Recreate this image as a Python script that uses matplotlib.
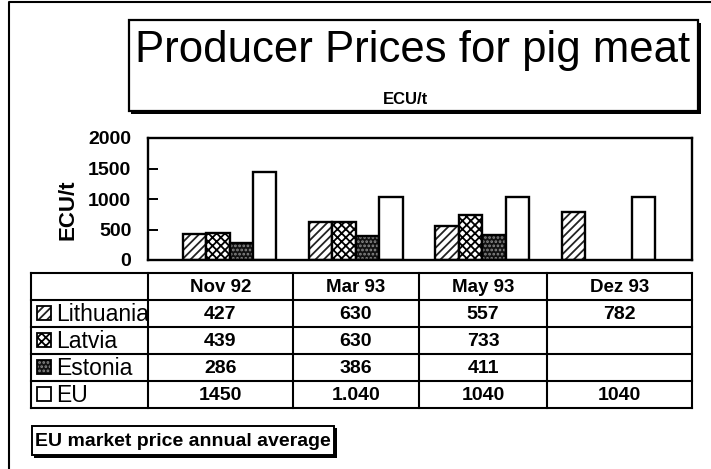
import numpy as np
import matplotlib.pyplot as plt
from matplotlib.patches import Rectangle

plt.rcParams['font.family'] = ['Liberation Sans', 'DejaVu Sans']
plt.rcParams['hatch.linewidth'] = 1.3

# data
months = ['Nov 92', 'Mar 93', 'May 93', 'Dez 93']
countries = ['Lithuania', 'Latvia', 'Estonia', 'EU']
lithuania = [427, 630, 557, 782]
latvia = [439, 630, 733, np.nan]
estonia = [286, 386, 411, np.nan]
eu = [1450, 1040, 1040, 1040]
eu_shown = ['1450', '1.040', '1040', '1040']   # as printed in the table
yticks = [0, 500, 1000, 1500, 2000]

# fill, hatch, hatch colour for each series
styles = [('white', '////', '#222222'),
          ('white', 'xxxx', 'black'),
          ('#111111', '....', '#8a8a8a'),
          ('white', '', 'black')]

W, H = 711, 469
fig = plt.figure(figsize=(W / 100, H / 100), dpi=100)

# background layer in pixel coords for frames, boxes and the table
bg = fig.add_axes([0, 0, 1, 1], zorder=0)
bg.set_xlim(0, W)
bg.set_ylim(H, 0)
bg.axis('off')

# page frame (left and top only)
bg.plot([9, 9, W], [H, 2, 2], color='black', lw=1.5)

# title box with shadow
bg.add_patch(Rectangle((131, 23), 570, 91, facecolor='black', edgecolor='none'))
bg.add_patch(Rectangle((129, 20), 569, 91, facecolor='white', edgecolor='black', lw=1.6))
bg.text(413, 62, 'Producer Prices for pig meat', fontsize=31.5,
        ha='center', va='baseline')
bg.text(405, 99, 'ECU/t', fontsize=12, fontweight='bold', ha='center', va='center')

# y label
bg.text(68, 210, 'ECU/t', fontsize=16, fontweight='bold', rotation=90,
        ha='center', va='center')

# bar chart
ax = fig.add_axes([148 / W, 1 - 260 / H, 544 / W, 122 / H], zorder=1)
series = [lithuania, latvia, estonia, eu]
x = np.arange(len(months))
bw = 0.185
for i, vals in enumerate(series):
    pos = x + (i - 1.5) * bw
    fc, hatch, hc = styles[i]
    ax.bar(pos, vals, bw, color=fc, hatch=hatch, edgecolor=hc, lw=0)
    ax.bar(pos, vals, bw, fill=False, edgecolor='black', lw=1.7)

ax.set_xlim(-0.645, 3.66)
ax.set_ylim(0, 2000)
ax.set_yticks(yticks)
ax.set_yticklabels([str(t) for t in yticks], fontsize=14, fontweight='bold')
ax.set_xticks([])
ax.tick_params(axis='y', direction='in', length=7, width=1.4, pad=12)
for s in ax.spines.values():
    s.set_linewidth(1.7)

# data table
col_x = [31, 148, 293, 419, 547, 692]
row_y = [273, 300, 327, 354, 381, 408]
for cx in col_x:
    bg.plot([cx, cx], [row_y[0], row_y[-1]], color='black', lw=1.5)
for ry in row_y:
    bg.plot([col_x[0], col_x[-1]], [ry, ry], color='black', lw=1.5)

for j, m in enumerate(months):
    cx = (col_x[j + 1] + col_x[j + 2]) / 2
    bg.text(cx, (row_y[0] + row_y[1]) / 2 + 1, m, fontsize=13.5,
            fontweight='bold', ha='center', va='center')

table_rows = [[str(v) if not np.isnan(v) else '' for v in lithuania],
              [str(int(v)) if not np.isnan(v) else '' for v in latvia],
              [str(int(v)) if not np.isnan(v) else '' for v in estonia],
              eu_shown]
for i, name in enumerate(countries):
    cy = (row_y[i + 1] + row_y[i + 2]) / 2
    fc, hatch, hc = styles[i]
    bg.add_patch(Rectangle((37, cy - 7), 14, 14, facecolor=fc, hatch=hatch,
                           edgecolor=hc, lw=0))
    bg.add_patch(Rectangle((37, cy - 7), 14, 14, fill=False,
                           edgecolor='black', lw=1.3))
    bg.text(56, cy + 1, name, fontsize=16.5, ha='left', va='center')
    for j, s in enumerate(table_rows[i]):
        cx = (col_x[j + 1] + col_x[j + 2]) / 2
        bg.text(cx, cy + 1, s, fontsize=14, fontweight='bold',
                ha='center', va='center')

# footnote box with shadow
bg.add_patch(Rectangle((34, 428), 303, 30, facecolor='black', edgecolor='none'))
bg.add_patch(Rectangle((32, 426), 302, 29, facecolor='white', edgecolor='black', lw=1.4))
bg.text(35, 441, 'EU market price annual average', fontsize=14,
        fontweight='bold', ha='left', va='center')

fig.savefig('out.png', dpi=100)
